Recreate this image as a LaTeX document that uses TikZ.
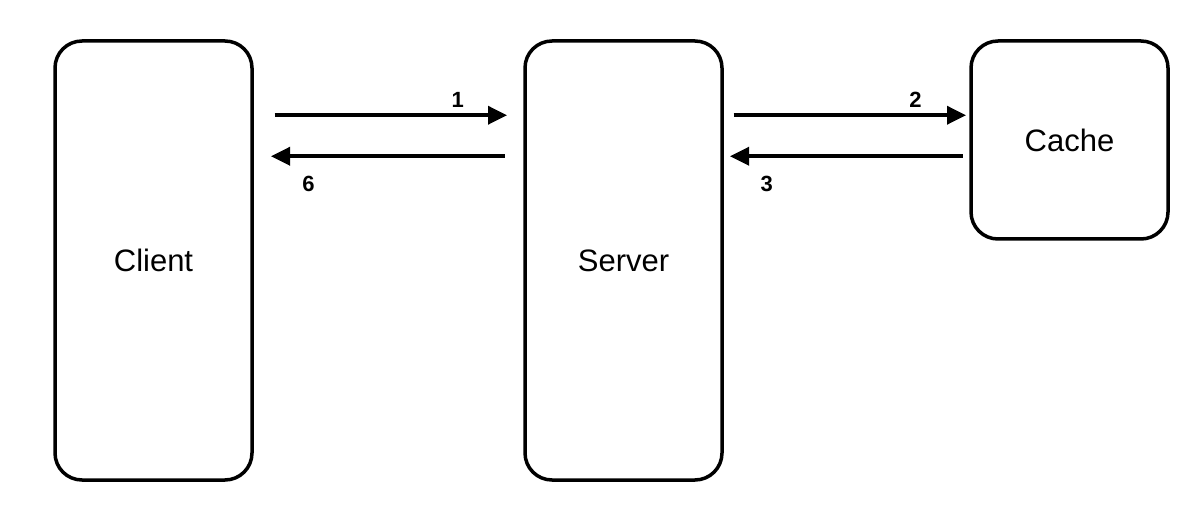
\documentclass[tikz,border=0pt]{standalone}
\usepackage{fontspec}
\setmainfont{Liberation Sans}
\usetikzlibrary{arrows.meta}
\begin{document}
\begin{tikzpicture}[x=1pt,y=-1pt,
  box/.style={draw=black,line width=3.5pt,rounded corners=27pt,minimum width=197pt,inner sep=0pt,font=\fontsize{31}{37}\selectfont},
  arr/.style={line width=3.5pt,-{Triangle[length=19pt,width=18pt]}},
  lbl/.style={font=\fontsize{22}{26}\selectfont\bfseries,inner sep=0pt}]
\useasboundingbox (0,0) rectangle (1198,510);
\node[box,minimum height=439pt] (client) at (153.5,260.5) {Client};
\node[box,minimum height=439pt] (server) at (623.5,260.5) {Server};
\node[box,minimum height=198pt] (cache) at (1069.5,140) {Cache};
\draw[arr,shorten <=20.75pt,shorten >=16.25pt] ([yshift=-76pt]client.north east) -- ([yshift=-76pt]server.north west) node[lbl,pos=0.757,yshift=15pt] (l1) {1};
\draw[arr,shorten <=18.75pt,shorten >=17.25pt] ([yshift=-117pt]server.north west) -- ([yshift=-117pt]client.north east) node[lbl,pos=0.797,yshift=-28pt] (l6) {6};
\draw[arr,shorten <=9.75pt,shorten >=3.25pt] ([yshift=-76pt]server.north east) -- ([yshift=-76pt]cache.north west) node[lbl,pos=0.781,yshift=15pt] (l2) {2};
\draw[arr,shorten <=6.75pt,shorten >=6.25pt] ([yshift=-117pt]cache.north west) -- ([yshift=-117pt]server.north east) node[lbl,pos=0.825,yshift=-28pt] (l3) {3};
\end{tikzpicture}
\end{document}
